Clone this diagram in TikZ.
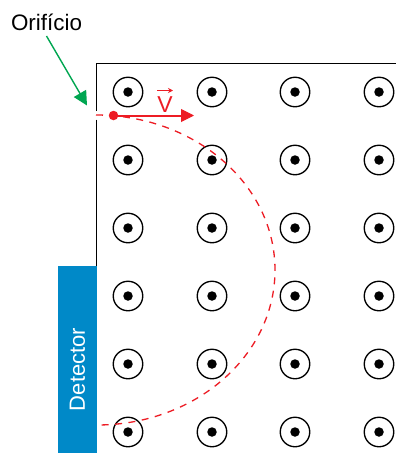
\documentclass[tikz,border=0pt]{standalone}
\usepackage{fontspec}
\setmainfont{Liberation Sans}
\usetikzlibrary{arrows.meta}
\definecolor{cred}{HTML}{ED1C24}
\definecolor{cgreen}{HTML}{00A651}
\definecolor{cblue}{HTML}{0089C8}
\tikzset{
  x=1pt,y=-1pt,
  ring/.style={circle,draw=black,line width=1.35pt,fill=white,minimum size=29.5pt,inner sep=0pt},
  core/.style={circle,fill=black,minimum size=9.5pt,inner sep=0pt},
  wall/.style={draw=black,line width=1.35pt},
  path1/.style={draw=cred,line width=1.3pt,dash pattern=on 7pt off 6.5pt},
  label1/.style={font=\fontsize{22}{24}\selectfont,inner sep=0pt},
  det/.style={fill=cblue,draw=none,minimum width=39pt,minimum height=187pt,inner sep=0pt},
}
\begin{document}
\begin{tikzpicture}
\useasboundingbox (0,0) rectangle (396,453);
\fill[white] (0,0) rectangle (396,453);
% field markers
\foreach \cx [count=\i] in {128,212,295,379}{
  \foreach \cy [count=\j] in {92,160,228,296,364,432}{
    \node[ring] (r\i\j) at (\cx,\cy) {};
    \node[core] (c\i\j) at (\cx,\cy) {};
  }
}
% walls
\coordinate (topright) at (396,63.5);
\coordinate (corner) at (96.5,63.5);
\coordinate (holetop) at (96.5,111);
\coordinate (holebot) at (96.5,119.5);
\draw[wall,line cap=butt] (topright) -- (corner) -- (holetop);
\node[det] (detector) at (77.5,359.5) {};
\draw[wall] (holebot) -- (96.5,266);
\node[label1,white,rotate=90] (dettext) at (77.5,369.5) {Detector};
% trajectory
\coordinate (entry) at (96,115);
\coordinate (apex) at (275,270);
\coordinate (hit) at (97,425);
\draw[path1] (entry) .. controls (195,115) and (275,184.4) .. (apex)
  .. controls (275,355.6) and (195.3,425) .. (hit);
% velocity
\node[circle,fill=cred,minimum size=9.5pt,inner sep=0pt] (charge) at (113.5,115.5) {};
\coordinate (vtip) at (194,115.5);
\coordinate (vneck) at (182,115.5);
\draw[draw=cred,line width=2pt,line cap=butt] (charge.center) -- (vneck);
\draw[draw=cred,line width=1pt,-{Triangle[length=13pt,width=13pt,color=cred,fill=cred]}] (vneck) -- (vtip);
\node[label1,text=cred,font=\fontsize{23}{24}\selectfont] (vlabel) at (165,104.5) {V};
\coordinate (va) at (157,90.5);
\coordinate (vb) at (173,90.5);
\draw[draw=cred,line width=1.3pt,-{Stealth[length=5pt,width=5pt,color=cred,fill=cred]}] (va) -- (vb);
% hole label
\node[label1,font=\fontsize{22.4}{24}\selectfont] (orif) at (46.5,22.5) {Orifício};
\coordinate (hole) at (87,105.5);
\coordinate (orifend) at (46.5,36);
\draw[draw=cgreen,line width=1.4pt,-{Triangle[length=14pt,width=14pt,color=cgreen,fill=cgreen]}] (orifend) -- (hole);
\end{tikzpicture}
\end{document}
